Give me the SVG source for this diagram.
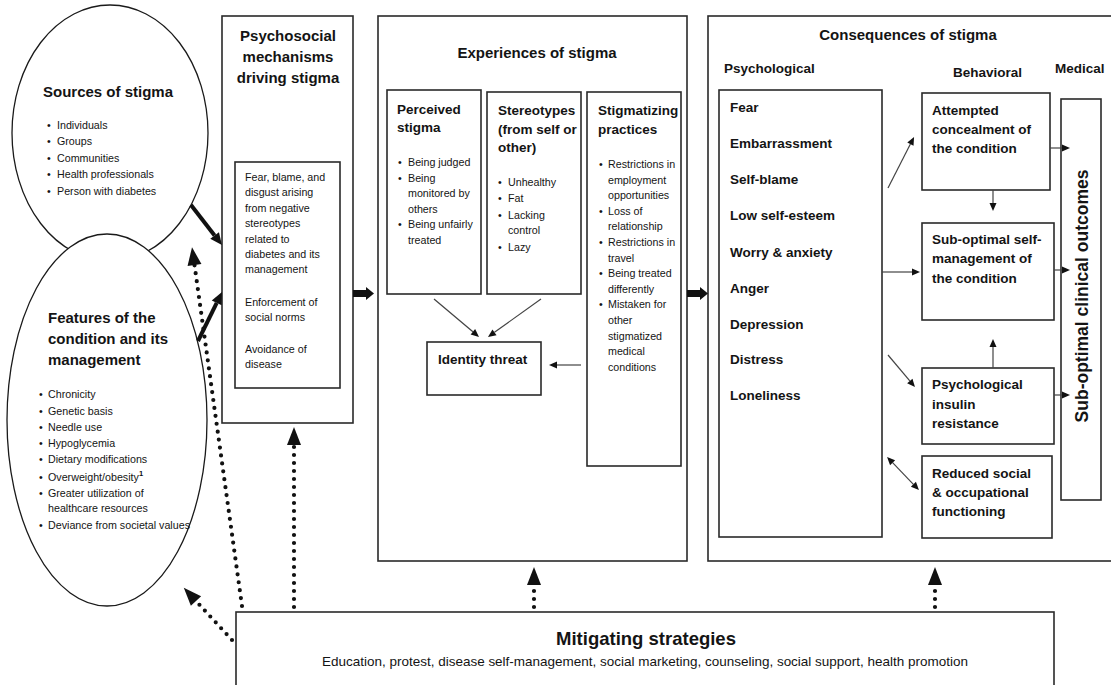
<svg xmlns="http://www.w3.org/2000/svg" width="1111" height="685" viewBox="0 0 1111 685">
<style>
text { font-family: "Liberation Sans", Arial, Helvetica, sans-serif; fill: #141414; }
.h { font-weight: bold; font-size: 15px; }
.h2 { font-weight: bold; font-size: 13.5px; }
.b { font-size: 10.7px; fill: #333; }
.c { text-anchor: middle; }
.box { fill: #fff; stroke: #2a2a2a; stroke-width: 1.6; }
.ell { fill: #fff; stroke: #1a1a1a; stroke-width: 1.3; }
.thin { stroke: #444; stroke-width: 1.2; fill: none; }
.thick { stroke: #111; stroke-width: 4; fill: none; }
.dot { stroke: #111; stroke-width: 4.2; stroke-linecap: round; stroke-dasharray: 0 8; fill: none; }
</style>
<defs>
<marker id="aS" markerUnits="userSpaceOnUse" markerWidth="9" markerHeight="8" refX="0" refY="3.5" orient="auto-start-reverse" overflow="visible"><path d="M0,0 L8,3.5 L0,7 z" fill="#111"/></marker>
<marker id="aT" markerUnits="userSpaceOnUse" markerWidth="13" markerHeight="12" refX="0" refY="5.5" orient="auto" overflow="visible"><path d="M0,0 L12,5.5 L0,11 z" fill="#111"/></marker>
<marker id="aD" markerUnits="userSpaceOnUse" markerWidth="19" markerHeight="15" refX="0" refY="7" orient="auto" overflow="visible"><path d="M0,0 L18,7 L0,14 z" fill="#111"/></marker>
</defs>
<rect width="1111" height="685" fill="#fff"/>

<g id="sources">
<ellipse class="ell" cx="110" cy="133" rx="98" ry="128"/>
<text class="h c" x="108" y="97">Sources of stigma</text>
<g class="b">
<text x="47" y="129">•</text><text x="57" y="129">Individuals</text>
<text x="47" y="145">•</text><text x="57" y="145">Groups</text>
<text x="47" y="162">•</text><text x="57" y="162">Communities</text>
<text x="47" y="178">•</text><text x="57" y="178">Health professionals</text>
<text x="47" y="195">•</text><text x="57" y="195">Person with diabetes</text>
</g>
</g>

<g id="features">
<ellipse class="ell" cx="107" cy="420" rx="100" ry="186"/>
<text class="h" x="48" y="323">Features of the</text>
<text class="h" x="48" y="344">condition and its</text>
<text class="h" x="48" y="365">management</text>
<g class="b">
<text x="39" y="398">•</text><text x="48" y="398">Chronicity</text>
<text x="39" y="415">•</text><text x="48" y="415">Genetic basis</text>
<text x="39" y="431">•</text><text x="48" y="431">Needle use</text>
<text x="39" y="447">•</text><text x="48" y="447">Hypoglycemia</text>
<text x="39" y="463">•</text><text x="48" y="463">Dietary modifications</text>
<text x="39" y="481">•</text><text x="48" y="481">Overweight/obesity<tspan font-size="7.5" font-weight="bold" fill="#111" dy="-5">1</tspan></text>
<text x="39" y="497">•</text><text x="48" y="497">Greater utilization of</text>
<text x="48" y="512">healthcare resources</text>
<text x="39" y="529">•</text><text x="48" y="529">Deviance from societal values</text>
</g>
</g>

<g id="psychosocial">
<rect class="box" x="222" y="16" width="131" height="407"/>
<text class="h c" x="288" y="41">Psychosocial</text>
<text class="h c" x="288" y="62">mechanisms</text>
<text class="h c" x="288" y="83">driving stigma</text>
<rect class="box" x="235" y="162" width="105" height="226"/>
<g class="b" font-size="11">
<text x="245" y="181">Fear, blame, and</text>
<text x="245" y="196.4">disgust arising</text>
<text x="245" y="211.8">from negative</text>
<text x="245" y="227.2">stereotypes</text>
<text x="245" y="242.6">related to</text>
<text x="245" y="258">diabetes and its</text>
<text x="245" y="273.4">management</text>
<text x="245" y="306">Enforcement of</text>
<text x="245" y="321.4">social norms</text>
<text x="245" y="353">Avoidance of</text>
<text x="245" y="368">disease</text>
</g>
</g>

<g id="experiences">
<rect class="box" x="378" y="16" width="309" height="545"/>
<text class="h c" x="537" y="58">Experiences of stigma</text>
</g>

<g id="perceived">
<rect class="box" x="387" y="90" width="94" height="204"/>
<text class="h2" x="397" y="114">Perceived</text>
<text class="h2" x="397" y="132">stigma</text>
<g class="b">
<text x="398" y="166">•</text><text x="408" y="166">Being judged</text>
<text x="398" y="181.6">•</text><text x="408" y="181.6">Being</text>
<text x="408" y="197.2">monitored by</text>
<text x="408" y="212.8">others</text>
<text x="398" y="228.4">•</text><text x="408" y="228.4">Being unfairly</text>
<text x="408" y="244">treated</text>
</g>
</g>

<g id="stereotypes">
<rect class="box" x="487" y="92" width="94" height="202"/>
<text class="h2" x="498" y="115">Stereotypes</text>
<text class="h2" x="498" y="134">(from self or</text>
<text class="h2" x="498" y="152">other)</text>
<g class="b">
<text x="498" y="186">•</text><text x="508" y="186">Unhealthy</text>
<text x="498" y="202">•</text><text x="508" y="202">Fat</text>
<text x="498" y="219">•</text><text x="508" y="219">Lacking</text>
<text x="508" y="234">control</text>
<text x="498" y="251">•</text><text x="508" y="251">Lazy</text>
</g>
</g>

<g id="stigmatizing">
<rect class="box" x="587" y="92" width="94" height="374"/>
<text class="h2" x="598" y="115">Stigmatizing</text>
<text class="h2" x="598" y="134">practices</text>
<g class="b">
<text x="599" y="168">•</text><text x="608" y="168">Restrictions in</text>
<text x="608" y="183.6">employment</text>
<text x="608" y="199.2">opportunities</text>
<text x="599" y="214.8">•</text><text x="608" y="214.8">Loss of</text>
<text x="608" y="230.4">relationship</text>
<text x="599" y="246">•</text><text x="608" y="246">Restrictions in</text>
<text x="608" y="261.6">travel</text>
<text x="599" y="277.2">•</text><text x="608" y="277.2">Being treated</text>
<text x="608" y="292.8">differently</text>
<text x="599" y="308.4">•</text><text x="608" y="308.4">Mistaken for</text>
<text x="608" y="324">other</text>
<text x="608" y="339.6">stigmatized</text>
<text x="608" y="355.2">medical</text>
<text x="608" y="370.8">conditions</text>
</g>
</g>

<g id="identity">
<rect class="box" x="427" y="342" width="114" height="53"/>
<text class="h2" x="438" y="364">Identity threat</text>
</g>

<g id="consequences">
<rect class="box" x="708" y="16" width="420" height="545"/>
<text class="h c" x="908" y="40">Consequences of stigma</text>
<text class="h2" x="724" y="73">Psychological</text>
<text class="h2" x="953" y="77">Behavioral</text>
<text class="h2" x="1055" y="73">Medical</text>
</g>

<g id="psychological">
<rect class="box" x="719" y="90" width="163" height="447"/>
<g class="h2">
<text x="730" y="112">Fear</text>
<text x="730" y="148">Embarrassment</text>
<text x="730" y="184">Self-blame</text>
<text x="730" y="220">Low self-esteem</text>
<text x="730" y="257">Worry &amp; anxiety</text>
<text x="730" y="293">Anger</text>
<text x="730" y="329">Depression</text>
<text x="730" y="364">Distress</text>
<text x="730" y="400">Loneliness</text>
</g>
</g>

<g id="concealment">
<rect class="box" x="922" y="93" width="128" height="97"/>
<text class="h2" x="932" y="115">Attempted</text>
<text class="h2" x="932" y="134">concealment of</text>
<text class="h2" x="932" y="153">the condition</text>
</g>

<g id="selfmanagement">
<rect class="box" x="922" y="223" width="132" height="97"/>
<text class="h2" x="932" y="244">Sub-optimal self-</text>
<text class="h2" x="932" y="263">management of</text>
<text class="h2" x="932" y="283">the condition</text>
</g>

<g id="insulin">
<rect class="box" x="922" y="368" width="132" height="76"/>
<text class="h2" x="932" y="389">Psychological</text>
<text class="h2" x="932" y="409">insulin</text>
<text class="h2" x="932" y="428">resistance</text>
</g>

<g id="reduced">
<rect class="box" x="922" y="456" width="130" height="82"/>
<text class="h2" x="932" y="478">Reduced social</text>
<text class="h2" x="932" y="497">&amp; occupational</text>
<text class="h2" x="932" y="516">functioning</text>
</g>

<g id="medical">
<rect class="box" x="1061" y="99" width="40" height="401"/>
<text class="c" font-weight="bold" font-size="17.5" fill="#222" transform="translate(1088,296) rotate(-90)">Sub-optimal clinical outcomes</text>
</g>

<g id="mitigating">
<rect class="box" x="236" y="612" width="818" height="85"/>
<text class="c" font-weight="bold" font-size="18.5" x="646" y="645">Mitigating strategies</text>
<text class="c" font-size="13" x="645" y="666" textLength="646" lengthAdjust="spacingAndGlyphs" fill="#222">Education, protest, disease self-management, social marketing, counseling, social support, health promotion</text>
</g>

<g id="connectors">
<line class="thick" x1="191" y1="205" x2="214.6" y2="235.5" marker-end="url(#aT)"/>
<line class="thick" x1="198" y1="341" x2="216.7" y2="302.8" marker-end="url(#aT)"/>
<polygon points="353,290 366,290 366,287 374,293.5 366,300 366,297 353,297" fill="#111"/>
<polygon points="687,290 700,290 700,287 708,293.5 700,300 700,297 687,297" fill="#111"/>
<line class="thin" x1="434" y1="299" x2="472.9" y2="331.8" marker-end="url(#aS)"/>
<line class="thin" x1="541" y1="299" x2="494.5" y2="332.3" marker-end="url(#aS)"/>
<line class="thin" x1="581" y1="365" x2="557" y2="365" marker-end="url(#aS)"/>
<line class="thin" x1="888" y1="188" x2="910.4" y2="144.1" marker-end="url(#aS)"/>
<line class="thin" x1="882" y1="272" x2="912" y2="272" marker-end="url(#aS)"/>
<line class="thin" x1="888" y1="355" x2="909.8" y2="380.9" marker-end="url(#aS)"/>
<line class="thin" x1="892.6" y1="462.7" x2="913.4" y2="484.3" marker-start="url(#aS)" marker-end="url(#aS)"/>
<line class="thin" x1="993" y1="190" x2="993" y2="203" marker-end="url(#aS)"/>
<line class="thin" x1="993" y1="368" x2="993" y2="347" marker-end="url(#aS)"/>
<line class="thin" x1="1050" y1="148" x2="1062" y2="148" marker-end="url(#aS)"/>
<line class="thin" x1="1054" y1="270" x2="1062" y2="270" marker-end="url(#aS)"/>
<line class="thin" x1="1054" y1="395" x2="1062" y2="395" marker-end="url(#aS)"/>
<line class="dot" x1="294" y1="607" x2="294" y2="445" marker-end="url(#aD)"/>
<line class="dot" x1="242" y1="606" x2="194.5" y2="265" marker-end="url(#aD)"/>
<line class="dot" x1="232" y1="640" x2="196" y2="601" marker-end="url(#aD)"/>
<line class="dot" x1="534" y1="607" x2="534" y2="585" marker-end="url(#aD)"/>
<line class="dot" x1="935" y1="607" x2="935" y2="585" marker-end="url(#aD)"/>
</g>
</svg>
